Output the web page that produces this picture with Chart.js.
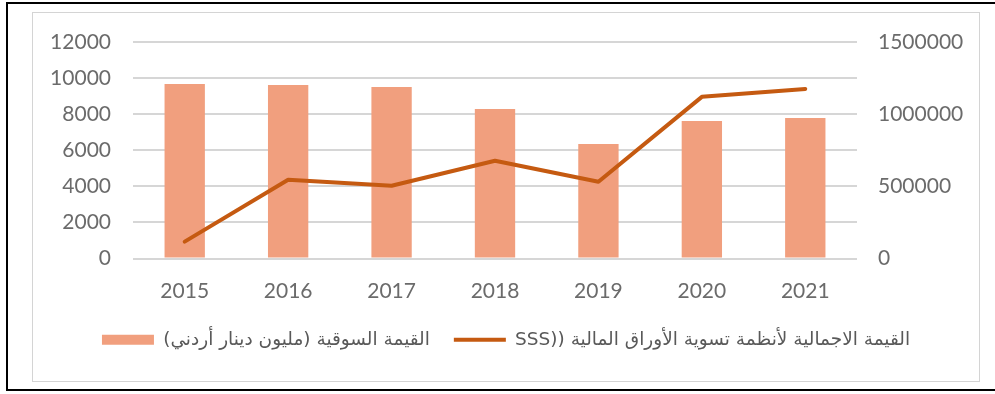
<!DOCTYPE html>
<html>
<head>
<meta charset="utf-8">
<script src="https://cdn.jsdelivr.net/npm/chart.js@4"></script>
<style>
  html, body { margin: 0; padding: 0; background: #ffffff; }
  body { width: 995px; height: 394px; position: relative; overflow: hidden; }
  #frame { position: absolute; left: 6px; top: 2px; width: 1000px; height: 385px;
           border-left: 2px solid #000; border-top: 2px solid #000; border-bottom: 2px solid #000; }
  #box { position: absolute; left: 32px; top: 12px; width: 948px; height: 370px;
         box-sizing: border-box; border: 1px solid #d4d4d4; background: #fff; }
  #wrap { position: absolute; left: 0; top: 0; width: 946px; height: 368px; }
</style>
</head>
<body>
<div id="frame"></div>
<div id="box"><div id="wrap"><canvas id="c" width="946" height="368"></canvas></div></div>
<script>
const categories = ['2015', '2016', '2017', '2018', '2019', '2020', '2021'];
const marketValue = [9670, 9610, 9500, 8290, 6350, 7620, 7790];
const sssTotal = [117000, 546000, 504000, 677000, 532000, 1120000, 1175000];
const leftTicks = [0, 2000, 4000, 6000, 8000, 10000, 12000];
const rightTicks = [0, 500000, 1000000, 1500000];
const barLabel = 'القيمة السوقية (مليون دينار أردني)';
const lineLabel = 'القيمة الاجمالية لأنظمة تسوية الأوراق المالية ((SSS';

const tickFont = { family: 'Lato, "Liberation Sans", sans-serif', size: 21 };
const tickColor = '#6b6b6b';

new Chart(document.getElementById('c'), {
  data: {
    labels: categories,
    datasets: [
      { type: 'bar', label: barLabel, data: marketValue, yAxisID: 'y',
        backgroundColor: '#f19f7e', borderWidth: 0,
        barPercentage: 1, categoryPercentage: 0.39, order: 2 },
      { type: 'line', label: lineLabel, data: sssTotal, yAxisID: 'y1',
        borderColor: '#c55a11', backgroundColor: '#c55a11', borderWidth: 4,
        pointRadius: 0, tension: 0, order: 1, borderCapStyle: 'round', borderJoinStyle: 'round' }
    ]
  },
  options: {
    responsive: false,
    animation: false,
    layout: { padding: { top: 29, bottom: 22, left: 0, right: 0 } },
    plugins: {
      tooltip: { enabled: false },
      legend: {
        position: 'bottom',
        textDirection: 'rtl',
        labels: {
          usePointStyle: true,
          pointStyleWidth: 52,
          boxHeight: 10,
          padding: 24,
          color: '#595959',
          font: { family: '"DejaVu Sans", sans-serif', size: 18.5 },
          generateLabels: (chart) => chart.data.datasets.map((ds, i) => ({
            text: ds.label,
            fillStyle: ds.type === 'bar' ? ds.backgroundColor : 'rgba(0,0,0,0)',
            strokeStyle: ds.type === 'bar' ? 'rgba(0,0,0,0)' : ds.borderColor,
            lineWidth: ds.type === 'bar' ? 0 : 4,
            pointStyle: ds.type === 'bar' ? 'rect' : 'line',
            fontColor: '#595959',
            hidden: false,
            datasetIndex: i
          }))
        }
      }
    },
    scales: {
      x: {
        grid: { display: false, drawTicks: false },
        border: { display: false },
        ticks: { font: tickFont, color: tickColor, padding: 20 },
        afterFit: (s) => { s.height = 48; }
      },
      y: {
        position: 'left',
        min: 0, max: 12000,
        afterBuildTicks: (s) => { s.ticks = leftTicks.map(v => ({ value: v })); },
        grid: { color: '#d6d6d6', lineWidth: 2, drawTicks: true, tickLength: 20, tickColor: 'rgba(0,0,0,0)' },
        border: { display: false },
        ticks: { font: tickFont, color: tickColor, padding: 2, callback: (v) => String(v) },
        afterFit: (s) => { s.width = 100; }
      },
      y1: {
        position: 'right',
        min: 0, max: 1500000,
        afterBuildTicks: (s) => { s.ticks = rightTicks.map(v => ({ value: v })); },
        grid: { display: false, drawOnChartArea: false, drawTicks: true, tickLength: 19, tickColor: 'rgba(0,0,0,0)' },
        border: { display: false },
        ticks: { font: tickFont, color: tickColor, padding: 2, callback: (v) => String(v) },
        afterFit: (s) => { s.width = 122; }
      }
    }
  }
});
</script>
</body>
</html>
